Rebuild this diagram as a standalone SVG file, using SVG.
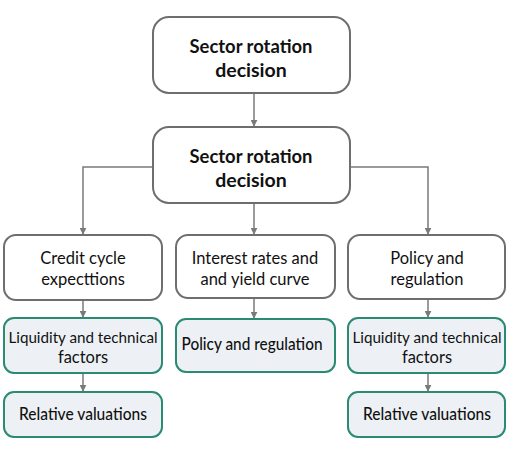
<svg xmlns="http://www.w3.org/2000/svg" width="512" height="455" viewBox="0 0 512 455">
<defs>
<style>
.w{fill:#ffffff;stroke:#6e6e6e;stroke-width:2}
.g{fill:#edf1f6;stroke:#2a8a72;stroke-width:2}
.t{font-family:Lato,"Open Sans","Liberation Sans",sans-serif;fill:#111;text-anchor:middle}
.b{font-size:19.5px;font-weight:700}
.n{font-size:16.5px}
.s{font-size:15.2px}
.m{font-size:16.5px;font-weight:500}
.c{fill:none;stroke:#7a7a7a;stroke-width:1.5}
</style>
<marker id="ah" viewBox="0 0 10 10" refX="9" refY="5" markerWidth="7" markerHeight="7" markerUnits="userSpaceOnUse" orient="auto">
<path d="M0,0L10,5L0,10z" fill="#7a7a7a"/>
</marker>
</defs>
<rect width="512" height="455" fill="#ffffff"/>
<g id="connectors">
<path class="c" d="M254,93V126" marker-end="url(#ah)"/>
<path class="c" d="M254,203V234" marker-end="url(#ah)"/>
<path class="c" d="M153,167H83V234" marker-end="url(#ah)"/>
<path class="c" d="M350,167H428V234" marker-end="url(#ah)"/>
<path class="c" d="M83,300V317" marker-end="url(#ah)"/>
<path class="c" d="M83,373V391" marker-end="url(#ah)"/>
<path class="c" d="M254,298V318" marker-end="url(#ah)"/>
<path class="c" d="M428,299V317" marker-end="url(#ah)"/>
<path class="c" d="M428,373V391" marker-end="url(#ah)"/>
</g>
<g id="top">
<rect class="w" x="153" y="17" width="197" height="76" rx="16"/>
<text class="t b" x="251" y="53" textLength="123" lengthAdjust="spacingAndGlyphs">Sector rotation</text>
<text class="t b" x="251" y="77">decision</text>
</g>
<g id="decision">
<rect class="w" x="153" y="127" width="197" height="76" rx="16"/>
<text class="t b" x="251" y="163" textLength="123" lengthAdjust="spacingAndGlyphs">Sector rotation</text>
<text class="t b" x="251" y="187">decision</text>
</g>
<g id="credit">
<rect class="w" x="4" y="235" width="158" height="65" rx="12"/>
<text class="t n" x="83" y="264">Credit cycle</text>
<text class="t n" x="83" y="285">expecttions</text>
</g>
<g id="interest">
<rect class="w" x="176" y="235" width="159" height="63" rx="12"/>
<text class="t n" x="255" y="264">Interest rates and</text>
<text class="t n" x="255" y="285">and yield curve</text>
</g>
<g id="policy">
<rect class="w" x="348" y="235" width="157" height="64" rx="12"/>
<text class="t n" x="427" y="264">Policy and</text>
<text class="t n" x="427" y="285">regulation</text>
</g>
<g id="liq1">
<rect class="g" x="4" y="318" width="158" height="55" rx="10"/>
<text class="t s" x="83" y="343">Liquidity and technical</text>
<text class="t n" x="83" y="363">factors</text>
</g>
<g id="pol2">
<rect class="g" x="176" y="319" width="159" height="53" rx="10"/>
<text class="t m" x="252" y="350" textLength="141" lengthAdjust="spacingAndGlyphs">Policy and regulation</text>
</g>
<g id="liq2">
<rect class="g" x="348" y="318" width="157" height="55" rx="10"/>
<text class="t s" x="427" y="343">Liquidity and technical</text>
<text class="t n" x="427" y="363">factors</text>
</g>
<g id="rel1">
<rect class="g" x="4" y="392" width="158" height="45" rx="10"/>
<text class="t m" x="83" y="420" textLength="128" lengthAdjust="spacingAndGlyphs">Relative valuations</text>
</g>
<g id="rel2">
<rect class="g" x="348" y="392" width="157" height="45" rx="10"/>
<text class="t m" x="427" y="420" textLength="128" lengthAdjust="spacingAndGlyphs">Relative valuations</text>
</g>
</svg>
